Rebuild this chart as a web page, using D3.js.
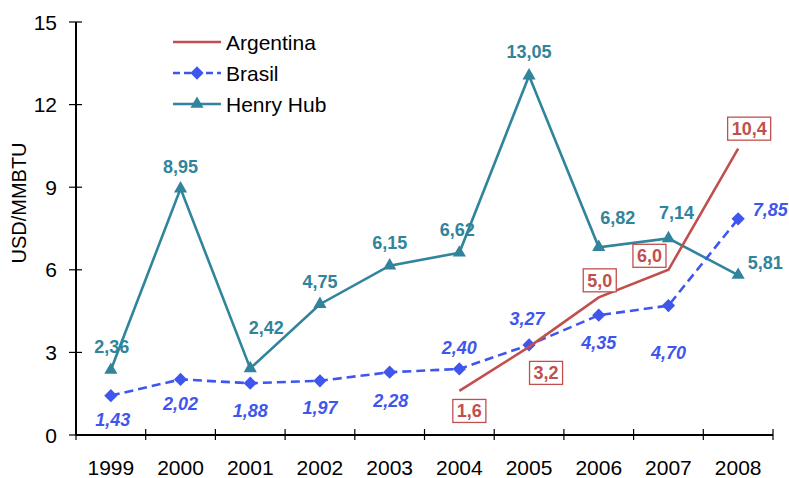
<!DOCTYPE html>
<html>
<head>
<meta charset="utf-8">
<script src="https://cdn.jsdelivr.net/npm/d3@7/dist/d3.min.js"></script>
<style>
  html, body { margin: 0; padding: 0; background: #fff; }
  svg { display: block; font-family: "Liberation Sans", Arial, sans-serif; }
</style>
</head>
<body>
<svg id="chart" width="789" height="478"></svg>
<script>
// Gas prices, USD/MMBTU
const years = ["1999","2000","2001","2002","2003","2004","2005","2006","2007","2008"];
const brasil = [1.43, 2.02, 1.88, 1.97, 2.28, 2.40, 3.27, 4.35, 4.70, 7.85];
const henryHub = [2.36, 8.95, 2.42, 4.75, 6.15, 6.62, 13.05, 6.82, 7.14, 5.81];
const argentinaYears = ["2004","2005","2006","2007","2008"];
const argentina = [1.6, 3.2, 5.0, 6.0, 10.4];
const yTicks = [0, 3, 6, 9, 12, 15];

// label offsets (text centre relative to its point, px)
const hhLabelOffset = [[1,-24],[0,-22],[16,-41],[0,-23],[0,-23],[-2,-23],[0,-24],[19,-30],[8,-26],[27,-13]];
const brLabelOffset = [[2,24],[0,24],[0,27],[0,27],[1,28],[0,-21],[-2,-26],[0,27],[0,47],[32,-9]];
const arLabelOffset = [[10,20],[17,26],[1,-17],[-19,-14],[11,-20]];

const fmt = (v, d) => v.toFixed(d).replace(".", ",");

const colors = { argentina: "#C0504D", brasil: "#3F56EE", hh: "#31849B" };

const svg = d3.select("#chart");
const margin = { left: 76, right: 16, top: 22, bottom: 43 };
const W = 789, H = 478;

const x = d3.scaleBand().domain(years).range([margin.left, W - margin.right]).paddingInner(0).paddingOuter(0);
const y = d3.scaleLinear().domain([0, 15]).range([H - margin.bottom, margin.top]);
const cx = yr => x(yr) + x.bandwidth() / 2;

// axes
const gx = svg.append("g").attr("transform", `translate(0,${y(0)})`);
gx.append("line").attr("x1", margin.left).attr("x2", W - margin.right).attr("stroke", "#000").attr("stroke-width", 2);
const xTickPos = years.map(d => x(d)).concat([x(years[years.length - 1]) + x.bandwidth()]);
gx.selectAll("line.tk").data(xTickPos).join("line").attr("class", "tk")
  .attr("x1", d => d).attr("x2", d => d).attr("y1", -6).attr("y2", 5)
  .attr("stroke", "#000").attr("stroke-width", 1.2);
gx.selectAll("text").data(years).join("text")
  .attr("x", d => cx(d)).attr("y", 40).attr("text-anchor", "middle")
  .attr("font-size", 21).attr("fill", "#000").text(d => d);

const gy = svg.append("g").attr("transform", `translate(${margin.left},0)`);
gy.append("line").attr("y1", y(0)).attr("y2", y(15)).attr("stroke", "#000").attr("stroke-width", 2);
gy.selectAll("line.tk").data(yTicks).join("line").attr("class", "tk")
  .attr("x1", -7).attr("x2", 6).attr("y1", d => y(d)).attr("y2", d => y(d))
  .attr("stroke", "#000").attr("stroke-width", 1.2);
gy.selectAll("text").data(yTicks).join("text")
  .attr("x", -19).attr("y", d => y(d)).attr("dy", "0.36em").attr("text-anchor", "end")
  .attr("font-size", 21).attr("fill", "#000").text(d => d);

svg.append("text").attr("transform", "translate(26,203) rotate(-90)")
  .attr("text-anchor", "middle").attr("font-size", 20).attr("fill", "#000").text("USD/MMBTU");

const line = d3.line();

// Henry Hub
svg.append("path").datum(years.map((yr, i) => [cx(yr), y(henryHub[i])]))
  .attr("d", line).attr("fill", "none").attr("stroke", colors.hh).attr("stroke-width", 2.6);
const tri = d3.symbol().type(d3.symbolTriangle).size(75);
svg.selectAll("path.hh").data(henryHub).join("path").attr("class", "hh")
  .attr("d", tri).attr("fill", colors.hh)
  .attr("transform", (d, i) => `translate(${cx(years[i])},${y(d)})`);

// Brasil
svg.append("path").datum(years.map((yr, i) => [cx(yr), y(brasil[i])]))
  .attr("d", line).attr("fill", "none").attr("stroke", colors.brasil).attr("stroke-width", 2.6)
  .attr("stroke-dasharray", "9,5");
const dia = d3.symbol().type(d3.symbolSquare).size(88);
svg.selectAll("path.br").data(brasil).join("path").attr("class", "br")
  .attr("d", dia).attr("fill", colors.brasil)
  .attr("transform", (d, i) => `translate(${cx(years[i])},${y(d)}) rotate(45)`);

// Argentina
svg.append("path").datum(argentinaYears.map((yr, i) => [cx(yr), y(argentina[i])]))
  .attr("d", line).attr("fill", "none").attr("stroke", colors.argentina).attr("stroke-width", 2.6);

// data labels
svg.selectAll("text.hhl").data(henryHub).join("text").attr("class", "hhl")
  .attr("x", (d, i) => cx(years[i]) + hhLabelOffset[i][0])
  .attr("y", (d, i) => y(d) + hhLabelOffset[i][1])
  .attr("dy", "0.36em").attr("text-anchor", "middle")
  .attr("font-size", 18).attr("font-weight", "bold").attr("fill", colors.hh)
  .text(d => fmt(d, 2));

svg.selectAll("text.brl").data(brasil).join("text").attr("class", "brl")
  .attr("x", (d, i) => cx(years[i]) + brLabelOffset[i][0])
  .attr("y", (d, i) => y(d) + brLabelOffset[i][1])
  .attr("dy", "0.36em").attr("text-anchor", "middle")
  .attr("font-size", 18).attr("font-weight", "bold").attr("font-style", "italic").attr("fill", colors.brasil)
  .text(d => fmt(d, 2));

const arG = svg.selectAll("g.arl").data(argentina).join("g").attr("class", "arl")
  .attr("transform", (d, i) => `translate(${cx(argentinaYears[i]) + arLabelOffset[i][0]},${y(d) + arLabelOffset[i][1]})`);
arG.append("text").attr("dy", "0.36em").attr("text-anchor", "middle")
  .attr("font-size", 18).attr("font-weight", "bold").attr("fill", colors.argentina)
  .text(d => fmt(d, 1));
arG.each(function () {
  const g = d3.select(this);
  const bb = g.select("text").node().getBBox();
  g.insert("rect", "text")
    .attr("x", bb.x - 4).attr("y", -11.5).attr("width", bb.width + 8).attr("height", 23)
    .attr("fill", "#fff").attr("stroke", colors.argentina).attr("stroke-width", 1.3);
});

// legend
const legend = [
  { name: "Argentina", color: colors.argentina, dash: null, sym: null },
  { name: "Brasil", color: colors.brasil, dash: "7,4", sym: dia, rot: 45 },
  { name: "Henry Hub", color: colors.hh, dash: null, sym: tri, rot: 0 }
];
const lg = svg.append("g").attr("transform", "translate(173,42)");
legend.forEach((d, i) => {
  const row = lg.append("g").attr("transform", `translate(0,${i * 31})`);
  row.append("line").attr("x1", 0).attr("x2", 48).attr("stroke", d.color).attr("stroke-width", 2.6)
    .attr("stroke-dasharray", d.dash);
  if (d.sym) row.append("path").attr("d", d.sym).attr("fill", d.color).attr("transform", `translate(24,0) rotate(${d.rot})`);
  row.append("text").attr("x", 53).attr("dy", "0.36em").attr("font-size", 21).attr("fill", "#000").text(d.name);
});
</script>
</body>
</html>
